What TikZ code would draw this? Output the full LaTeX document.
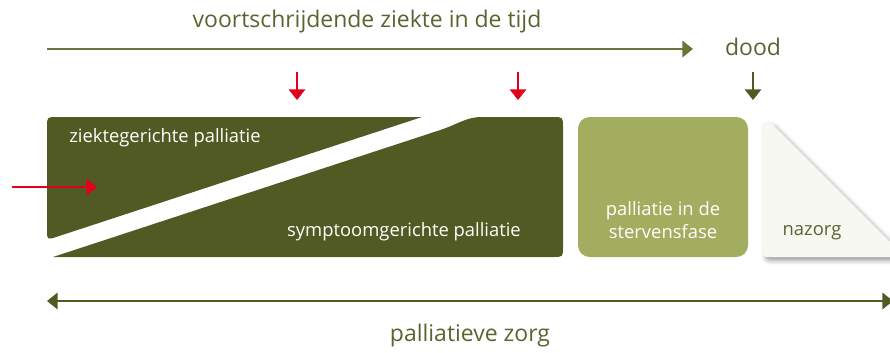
\documentclass[tikz,border=0pt]{standalone}
\usepackage{fontspec}
\setmainfont{Open Sans}
\usetikzlibrary{arrows.meta,shadows.blur}
\definecolor{palldark}{HTML}{505A22}
\definecolor{palllight}{HTML}{A3AD5F}
\definecolor{palltext}{HTML}{5A6430}
\definecolor{pallline}{HTML}{6B7538}
\definecolor{pallred}{HTML}{E2001A}
\definecolor{nazorgfill}{HTML}{F8F8F3}
\begin{document}
\begin{tikzpicture}[x=0.03cm,y=-0.03cm,>={Triangle[width=14pt,length=9pt]},
  txt/.style={text=palltext,font=\fontsize{19.6}{23}\selectfont},
  lbl/.style={text=white,font=\fontsize{15.7}{19}\selectfont}]
\useasboundingbox (0,0) rectangle (890,352);
\node[txt](title) at (367,22){voortschrijdende ziekte in de tijd};
\coordinate (T1) at (47,49);
\coordinate (T2) at (693,49);
\draw[->,pallline,line width=1.5pt](T1)--(T2);
\node[txt](dood) at (753,47){dood};
\coordinate (D1) at (753,72);
\coordinate (D2) at (753,100);
\draw[->,palldark,line width=1pt](D1)--(D2);
% blok palliatie
\fill[palldark](422,117)--(57,117)..controls(47,117)..(47,127)--(47,230)..controls(47,240)..(57,236.7)--cycle;
\fill[palldark](53,257)--(440,130.1)..controls(458,124.2)and(466,117)..(482,117)--(553,117)..controls(563,117)..(563,127)--(563,247)..controls(563,257)..(553,257)--cycle;
\fill[palllight,rounded corners=10](578,117)rectangle(748,257);
\fill[nazorgfill,blur shadow={shadow xshift=3pt,shadow yshift=-3pt,shadow blur radius=4pt}](762,133)..controls(762,121)..(772,124)--(905,257)--(772,257)..controls(762,257)..(762,247)--cycle;
\node[lbl](zg) at (165,138){ziektegerichte palliatie};
\node[lbl](sg) at (404,232){symptoomgerichte palliatie};
\node[lbl,align=center](sf) at (663,220){palliatie in de\\stervensfase};
\node[lbl,text=palltext](nz) at (812,233){nazorg};
% rode pijlen
\coordinate (R1) at (297,72);
\coordinate (R2) at (297,100);
\coordinate (R3) at (518,72);
\coordinate (R4) at (518,100);
\coordinate (L1) at (12,187);
\coordinate (L2) at (97,187);
\draw[->,pallred,line width=1pt](R1)--(R2);
\draw[->,pallred,line width=1pt](R3)--(R4);
\draw[->,pallred,line width=1pt](L1)--(L2);
% palliatieve zorg
\coordinate (B1) at (47,301);
\coordinate (B2) at (893,301);
\draw[<->,palldark,line width=1.5pt](B1)--(B2);
\node[txt](pz) at (470,336){palliatieve zorg};
\end{tikzpicture}
\end{document}
